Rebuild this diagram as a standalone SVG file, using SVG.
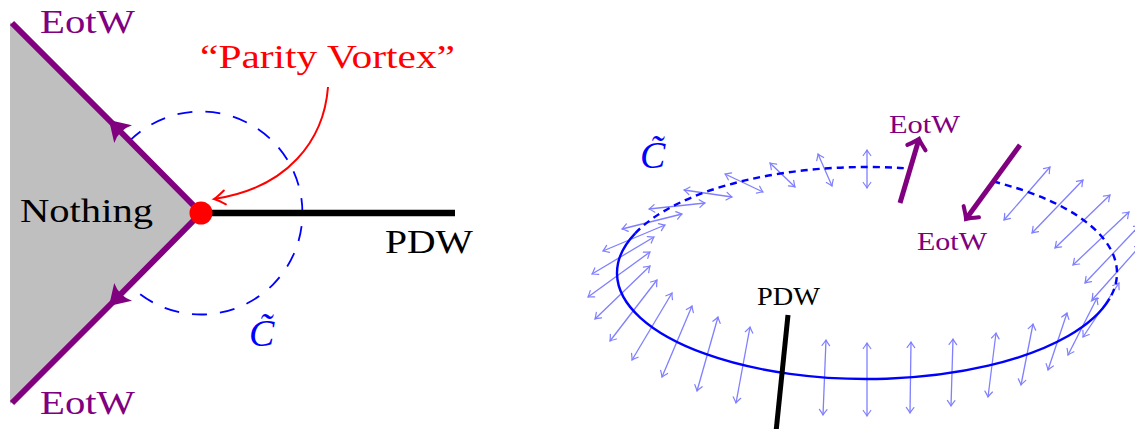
<svg xmlns="http://www.w3.org/2000/svg" width="1135" height="429" viewBox="0 0 1135 429">
<style>
  .lbl { font-family: "Liberation Serif", "Times New Roman", serif; }
  .big { font-size: 34px; }
  .small { font-size: 26px; }
  .cc { font-size: 38px; font-style: italic; fill: #0000ff; }
  .purple { fill: #800080; }
  .vec { stroke: #7f7fff; stroke-width: 1.3; fill: none; marker-start: url(#toB); marker-end: url(#toB); }
</style>
<defs>
  <marker id="stealthP" markerUnits="userSpaceOnUse" orient="auto" markerWidth="40" markerHeight="40" viewBox="-25 -20 40 40" refX="0" refY="0" overflow="visible">
    <path d="M0,0 L-20,-12.5 Q-14,0 -20,12.5 Z" fill="#800080"/>
  </marker>
  <marker id="toR" markerUnits="userSpaceOnUse" orient="auto" markerWidth="30" markerHeight="30" viewBox="-15 -15 30 30" refX="0" refY="0" overflow="visible">
    <path d="M-11,-7 Q-3.5,-1.5 0,0 Q-3.5,1.5 -11,7" fill="none" stroke="#ff0000" stroke-width="2" stroke-linecap="round"/>
  </marker>
  <marker id="toB" markerUnits="userSpaceOnUse" orient="auto-start-reverse" markerWidth="20" markerHeight="20" viewBox="-10 -10 20 20" refX="0" refY="0" overflow="visible">
    <path d="M-5.5,-3.8 Q-1.6,-0.8 0,0 Q-1.6,0.8 -5.5,3.8" fill="none" stroke="#7f7fff" stroke-width="1.2" stroke-linecap="round"/>
  </marker>
  <marker id="toP" markerUnits="userSpaceOnUse" orient="auto" markerWidth="40" markerHeight="40" viewBox="-20 -20 40 40" refX="0" refY="0" overflow="visible">
    <path d="M-9,-9.5 Q-2.5,-2 0,0 Q-2.5,2 -9,9.5" fill="none" stroke="#800080" stroke-width="4" stroke-linecap="round"/>
  </marker>
</defs>
<rect width="1135" height="429" fill="#ffffff"/>

<!-- LEFT PANEL -->
<g id="nothing-region">
  <polygon points="10,22 201,213 10,404" fill="#bfbfbf"/>
  <text class="lbl big" x="20" y="222" textLength="133" lengthAdjust="spacingAndGlyphs">Nothing</text>
</g>
<g id="loop-c-left">
  <path d="M129.2,141.2 A101.5,101.5 0 1 1 129.2,284.8" fill="none" stroke="#0000ff" stroke-width="1.8" stroke-dasharray="15 13"/>
  <text class="lbl cc" x="249" y="346">C̃</text>
</g>
<g id="connectors-left">
  <path d="M201,213 L109,120 L12,23" fill="none" stroke="#800080" stroke-width="6" marker-mid="url(#stealthP)"/>
  <path d="M201,213 L109,306 L12,403" fill="none" stroke="#800080" stroke-width="6" marker-mid="url(#stealthP)"/>
  <line x1="201" y1="213" x2="455" y2="213" stroke="#000000" stroke-width="6.5"/>
  <path d="M328,87 C324,140 288,188 214,199" fill="none" stroke="#ff0000" stroke-width="2" marker-end="url(#toR)"/>
</g>
<g id="eotw-top-left">
  <text class="lbl big purple" x="40" y="33" textLength="95" lengthAdjust="spacingAndGlyphs">EotW</text>
</g>
<g id="eotw-bottom-left">
  <text class="lbl big purple" x="40" y="414" textLength="95" lengthAdjust="spacingAndGlyphs">EotW</text>
</g>
<g id="pdw-left">
  <text class="lbl big" x="385" y="253" textLength="88" lengthAdjust="spacingAndGlyphs">PDW</text>
</g>
<g id="parity-vortex">
  <text class="lbl big" x="200" y="68" fill="#ff0000" textLength="255" lengthAdjust="spacingAndGlyphs">“Parity Vortex”</text>
  <circle cx="201" cy="213" r="11.5" fill="#ff0000"/>
</g>

<!-- RIGHT PANEL -->
<g id="vectors">
  <line class="vec" x1="588" y1="297" x2="650" y2="252"/>
  <line class="vec" x1="595" y1="319" x2="650" y2="266"/>
  <line class="vec" x1="610" y1="341" x2="657" y2="280"/>
  <line class="vec" x1="632" y1="360" x2="672" y2="293"/>
  <line class="vec" x1="662" y1="377" x2="692" y2="306"/>
  <line class="vec" x1="697" y1="391" x2="718" y2="317"/>
  <line class="vec" x1="736" y1="403" x2="750" y2="327"/>
  <line class="vec" x1="823" y1="415" x2="826" y2="340"/>
  <line class="vec" x1="867" y1="416" x2="867" y2="343"/>
  <line class="vec" x1="910" y1="413" x2="911" y2="342"/>
  <line class="vec" x1="951" y1="406" x2="953" y2="339"/>
  <line class="vec" x1="988" y1="397" x2="996" y2="333"/>
  <line class="vec" x1="1021" y1="385" x2="1033" y2="324"/>
  <line class="vec" x1="1048" y1="370" x2="1067" y2="313"/>
  <line class="vec" x1="1068" y1="355" x2="1097" y2="298"/>
  <line class="vec" x1="1083" y1="337" x2="1119" y2="283"/>
  <line class="vec" x1="1092" y1="300" x2="1141" y2="245"/>
  <line class="vec" x1="1085" y1="283" x2="1140" y2="225"/>
  <line class="vec" x1="1073" y1="265" x2="1129" y2="212"/>
  <line class="vec" x1="1055" y1="248" x2="1110" y2="195"/>
  <line class="vec" x1="1032" y1="233" x2="1083" y2="180"/>
  <line class="vec" x1="1004" y1="220" x2="1050" y2="167"/>
  <line class="vec" x1="867" y1="188" x2="867" y2="150"/>
  <line class="vec" x1="832" y1="186" x2="818" y2="154"/>
  <line class="vec" x1="795" y1="187" x2="770" y2="163"/>
  <line class="vec" x1="763" y1="192" x2="725" y2="174"/>
  <line class="vec" x1="732" y1="197" x2="684" y2="190"/>
  <line class="vec" x1="705" y1="203" x2="649" y2="209"/>
  <line class="vec" x1="682" y1="214" x2="622" y2="229"/>
  <line class="vec" x1="665" y1="225" x2="603" y2="251"/>
  <line class="vec" x1="654" y1="237" x2="592" y2="274"/>
</g>
<g id="loop-c-right">
  <path d="M1109.6,298.6 A250,106 0 1 1 635.2,233.3" fill="none" stroke="#0000ff" stroke-width="2.4"/>
  <path d="M635.2,233.3 A250,106 0 0 1 907.8,168.4" fill="none" stroke="#0000ff" stroke-width="2.4" stroke-dasharray="7 5"/>
  <path d="M993.1,181.5 A250,106 0 0 1 1109.6,298.6" fill="none" stroke="#0000ff" stroke-width="2.4" stroke-dasharray="7 5"/>
  <text class="lbl cc" x="640" y="168">C̃</text>
</g>
<g id="connectors-right">
  <line x1="788" y1="315" x2="776" y2="432" stroke="#000000" stroke-width="5"/>
  <line x1="900" y1="203" x2="919" y2="139" stroke="#800080" stroke-width="5" marker-end="url(#toP)"/>
  <line x1="1020" y1="145" x2="966" y2="219" stroke="#800080" stroke-width="5" marker-end="url(#toP)"/>
</g>
<g id="pdw-right">
  <text class="lbl small" x="757" y="305" textLength="63" lengthAdjust="spacingAndGlyphs">PDW</text>
</g>
<g id="eotw-right-top">
  <text class="lbl small purple" x="889" y="133" textLength="71" lengthAdjust="spacingAndGlyphs">EotW</text>
</g>
<g id="eotw-right-bottom">
  <text class="lbl small purple" x="917" y="250" textLength="70" lengthAdjust="spacingAndGlyphs">EotW</text>
</g>
</svg>
